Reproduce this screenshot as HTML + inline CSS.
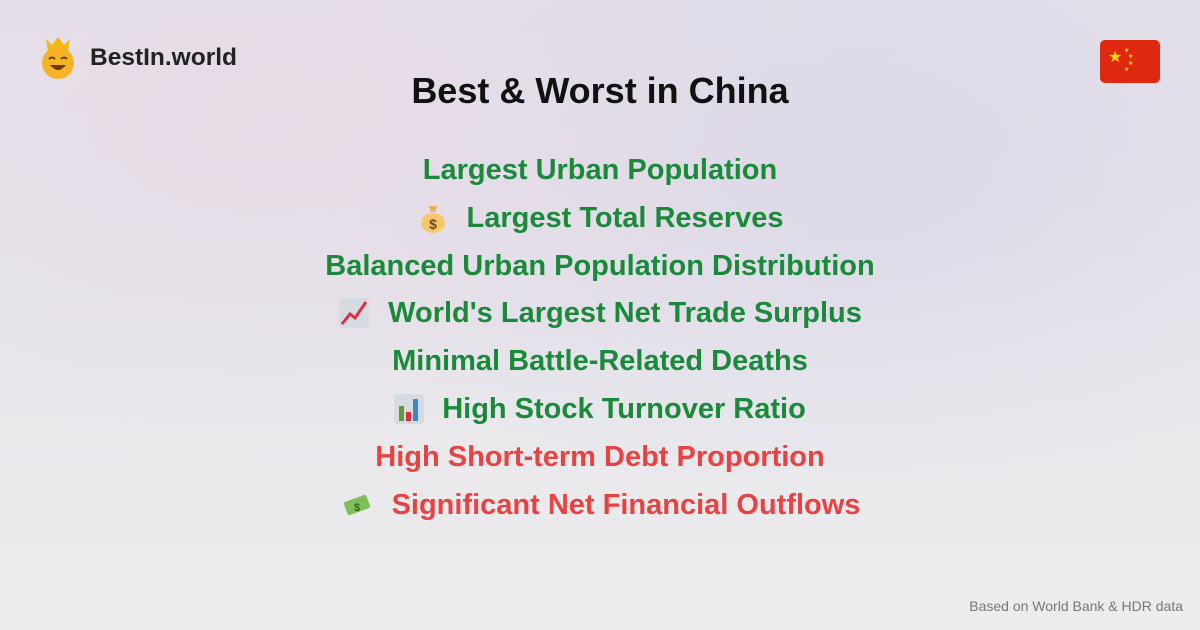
<!DOCTYPE html>
<html><head><meta charset="utf-8"><style>
*{margin:0;padding:0;box-sizing:border-box}
body{width:1200px;height:630px;overflow:hidden;font-family:"Liberation Sans",sans-serif;
background:radial-gradient(ellipse at 22% 20%,#e6dbe6 0%,rgba(230,219,230,0) 45%),radial-gradient(ellipse at 70% 25%,#dcd8e8 0%,rgba(220,216,232,0) 50%),linear-gradient(180deg,#e4e0ea 0%,#e8e8ec 60%,#ececee 100%);position:relative}
.logo{position:absolute;left:40px;top:37px;display:flex;align-items:center}
.logo span{font-weight:bold;font-size:24.5px;color:#222;margin-left:14px}
.flag{position:absolute;left:1100px;top:40px;width:60px;height:43px;background:#de2910;border-radius:5px}
h1{position:absolute;top:70px;width:100%;text-align:center;font-size:36px;font-weight:bold;color:#111}
.row{position:absolute;left:0;width:100%;display:flex;justify-content:center;align-items:center;font-size:29px;font-weight:bold;height:40px}
.g{color:#1a8a3a}.r{color:#e84343}
.row svg{margin-right:18px}
.foot{position:absolute;right:17px;bottom:16px;font-size:14px;color:#777}
</style></head><body>
<div class="logo">
<svg width="36" height="42" viewBox="0 0 36 42"><path d="M8 14 L6 2 L12 8 L18 0 L24 8 L30 2 L28 14 Z" fill="#f5b80c"/><circle cx="18" cy="26" r="16" fill="#f5b325"/><path d="M9 22 q3 -3 6 0 M21 22 q3 -3 6 0" stroke="#6b3b00" stroke-width="2" fill="none"/><path d="M10 28 q8 10 16 0 Z" fill="#6b3b00"/></svg>
<span>BestIn.world</span></div>
<div class="flag"><svg width="60" height="43"><text x="8" y="22" fill="#ffde00" font-size="16">★</text><text x="24" y="12" fill="#ffde00" font-size="6">★</text><text x="28" y="18" fill="#ffde00" font-size="6">★</text><text x="28" y="25" fill="#ffde00" font-size="6">★</text><text x="24" y="31" fill="#ffde00" font-size="6">★</text></svg></div>
<h1>Best &amp; Worst in China</h1>
<div class="row g" style="top:150px">Largest Urban Population</div>
<div class="row g" style="top:198px"><svg width="32" height="32"><path d="M12 4h8l-2 6h-4z" fill="#e8b04e"/><ellipse cx="16" cy="21" rx="12" ry="10" fill="#f6c86b"/><text x="16" y="27" font-size="14" text-anchor="middle" fill="#6b4a1a">$</text></svg>Largest Total Reserves</div>
<div class="row g" style="top:246px">Balanced Urban Population Distribution</div>
<div class="row g" style="top:293px"><svg width="32" height="32"><rect x="1" y="1" width="30" height="30" rx="3" fill="#d5dbe1"/><path d="M4 27 L12 17 L17 21 L28 5" stroke="#dd2e44" stroke-width="3" fill="none"/></svg>World's Largest Net Trade Surplus</div>
<div class="row g" style="top:341px">Minimal Battle-Related Deaths</div>
<div class="row g" style="top:389px"><svg width="30" height="30"><rect x="0" y="0" width="30" height="30" rx="3" fill="#d5dbe1"/><rect x="5" y="12" width="5" height="15" fill="#5e9b3a"/><rect x="12" y="18" width="5" height="9" fill="#dd2e44"/><rect x="19" y="5" width="5" height="22" fill="#3b88c3"/></svg>High Stock Turnover Ratio</div>
<div class="row r" style="top:437px">High Short-term Debt Proportion</div>
<div class="row r" style="top:485px"><svg width="34" height="30"><rect x="5" y="8" width="24" height="14" rx="2" fill="#7fbf5a" transform="rotate(-20 17 15)"/><text x="17" y="21" font-size="11" text-anchor="middle" fill="#2e6b1a">$</text></svg>Significant Net Financial Outflows</div>
<div class="foot">Based on World Bank &amp; HDR data</div>
</body></html>
